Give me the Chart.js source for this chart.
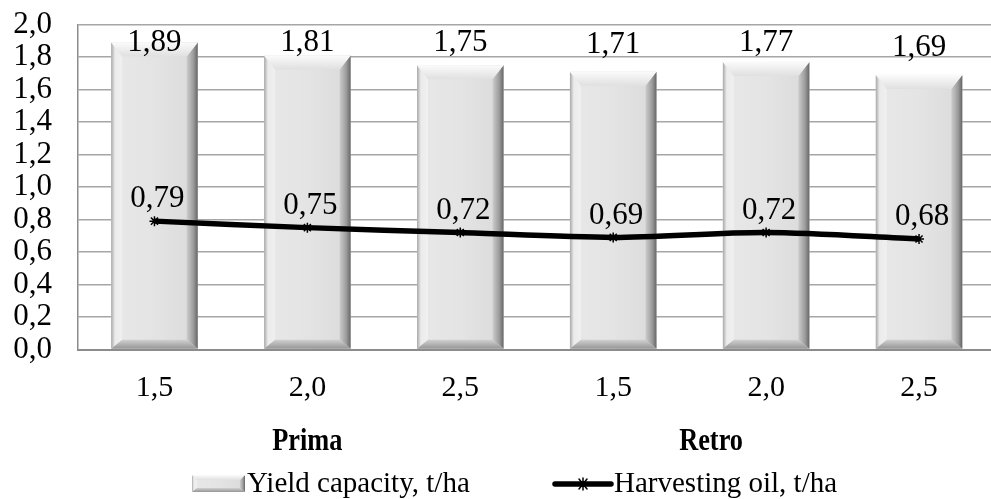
<!DOCTYPE html>
<html>
<head>
<meta charset="utf-8">
<script src="https://cdn.jsdelivr.net/npm/chart.js@4.4.1/dist/chart.umd.min.js"></script>
<style>
    html, body { margin: 0; padding: 0; overflow: hidden; background: #fff; }
    #wrap { width: 1002px; height: 499px; position: relative; }
</style>
</head>
<body>
<div id="wrap"><canvas id="myChart"></canvas></div>
<script>
// chart values
var categories = ['1,5', '2,0', '2,5', '1,5', '2,0', '2,5'];
var groupLabels = ['Prima', 'Retro'];
var yieldCapacity = [1.89, 1.81, 1.75, 1.71, 1.77, 1.69];
var harvestingOil = [0.79, 0.75, 0.72, 0.69, 0.72, 0.68];
var yMin = 0, yMax = 2, yStep = 0.2;

var FONT = '"Liberation Serif", "Times New Roman", serif';

function comma(v, d) {
    return v.toFixed(d).replace('.', ',');
}

// draw a bevelled bar (like the Excel "cool slant" style)
function drawBevel(ctx, L, T, R, B, bt, bs, bb) {
    var grad;
    // face
    grad = ctx.createLinearGradient(L, 0, R, 0);
    grad.addColorStop(0, '#e8e8e8');
    grad.addColorStop(0.5, '#e4e4e4');
    grad.addColorStop(1, '#dadada');
    ctx.fillStyle = grad;
    ctx.fillRect(L, T, R - L, B - T);
    // left side
    grad = ctx.createLinearGradient(L, 0, L + bs, 0);
    grad.addColorStop(0, '#a8a8a8');
    grad.addColorStop(0.35, '#ebebeb');
    grad.addColorStop(1, '#f0f0f0');
    ctx.fillStyle = grad;
    ctx.beginPath();
    ctx.moveTo(L, T); ctx.lineTo(L + bs, T + bt); ctx.lineTo(L + bs, B - bb); ctx.lineTo(L, B);
    ctx.closePath(); ctx.fill();
    // right side
    grad = ctx.createLinearGradient(R - bs, 0, R, 0);
    grad.addColorStop(0, '#cccccc');
    grad.addColorStop(0.6, '#9c9c9c');
    grad.addColorStop(1, '#666666');
    ctx.fillStyle = grad;
    ctx.beginPath();
    ctx.moveTo(R, T); ctx.lineTo(R - bs, T + bt); ctx.lineTo(R - bs, B - bb); ctx.lineTo(R, B);
    ctx.closePath(); ctx.fill();
    // top
    grad = ctx.createLinearGradient(0, T, 0, T + bt);
    grad.addColorStop(0, '#fbfbfb');
    grad.addColorStop(1, '#e0e0e0');
    ctx.fillStyle = grad;
    ctx.beginPath();
    ctx.moveTo(L, T); ctx.lineTo(R, T); ctx.lineTo(R - bs, T + bt); ctx.lineTo(L + bs, T + bt);
    ctx.closePath(); ctx.fill();
    // bottom
    grad = ctx.createLinearGradient(0, B - bb, 0, B);
    grad.addColorStop(0, '#d0d0d0');
    grad.addColorStop(1, '#959595');
    ctx.fillStyle = grad;
    ctx.beginPath();
    ctx.moveTo(L, B); ctx.lineTo(R, B); ctx.lineTo(R - bs, B - bb); ctx.lineTo(L + bs, B - bb);
    ctx.closePath(); ctx.fill();
}

var bevelBars = {
    id: 'bevelBars',
    afterDatasetDraw: function (chart, args) {
        if (args.meta.type !== 'bar') return;
        var ctx = chart.ctx;
        ctx.save();
        args.meta.data.forEach(function (bar) {
            var p = bar.getProps(['x', 'y', 'base', 'width'], true);
            drawBevel(ctx, p.x - p.width / 2, p.y, p.x + p.width / 2, p.base, 14, 11, 9);
        });
        ctx.restore();
    }
};

var extras = {
    id: 'extras',
    afterDatasetsDraw: function (chart) {
        var ctx = chart.ctx;
        var area = chart.chartArea;
        ctx.save();
        ctx.fillStyle = '#000';
        ctx.font = '31px ' + FONT;
        ctx.textAlign = 'center';
        ctx.textBaseline = 'middle';

        // bar labels
        chart.getDatasetMeta(0).data.forEach(function (bar, i) {
            var y = Math.max(bar.y - 27, area.top + 18);
            ctx.fillText(comma(yieldCapacity[i], 2), bar.x, y);
        });
        // line labels
        chart.getDatasetMeta(1).data.forEach(function (pt, i) {
            ctx.fillText(comma(harvestingOil[i], 2), pt.x + 3, pt.y - 22);
        });
        ctx.restore();
    },
    afterDraw: function (chart) {
        var ctx = chart.ctx;
        var xs = chart.scales.x;
        ctx.save();
        ctx.textBaseline = 'middle';
        ctx.textAlign = 'center';

        // group labels under the categories
        var groupPos = [1, 3.64];
        groupLabels.forEach(function (g, i) {
            var gx = xs.getPixelForValue(groupPos[i]);
            ctx.save();
            ctx.translate(gx, 442);
            ctx.scale(0.85, 1);
            ctx.fillStyle = '#000';
            ctx.font = 'bold 31px ' + FONT;
            ctx.fillText(g, 0, 0);
            ctx.restore();
        });

        // legend
        ctx.font = '29px ' + FONT;
        ctx.textAlign = 'left';
        drawBevel(ctx, 192, 475, 245, 492, 5, 5, 4);
        ctx.fillStyle = '#000';
        ctx.fillText(chart.data.datasets[0].label, 247, 484);

        ctx.strokeStyle = '#000';
        ctx.lineWidth = 5.5;
        ctx.lineCap = 'round';
        ctx.beginPath();
        ctx.moveTo(555, 484);
        ctx.lineTo(611, 484);
        ctx.stroke();
        ctx.lineWidth = 1.5;
        ctx.beginPath();
        ctx.moveTo(579, 479); ctx.lineTo(587, 489);
        ctx.moveTo(587, 479); ctx.lineTo(579, 489);
        ctx.moveTo(583, 478); ctx.lineTo(583, 490);
        ctx.stroke();
        ctx.fillText(chart.data.datasets[1].label, 614, 484);
        ctx.restore();
    }
};

document.addEventListener('DOMContentLoaded', function () {
    var ctx = document.getElementById('myChart').getContext('2d');

    var myChart = new Chart(ctx, {
        type: 'bar',
        data: {
            labels: categories,
            datasets: [{
                type: 'bar',
                label: 'Yield capacity, t/ha',
                data: yieldCapacity,
                backgroundColor: 'rgba(0,0,0,0)',
                borderWidth: 0,
                barPercentage: 0.566,
                categoryPercentage: 1,
                order: 2
            }, {
                type: 'line',
                label: 'Harvesting oil, t/ha',
                data: harvestingOil,
                borderColor: '#000',
                backgroundColor: '#000',
                borderWidth: 5.5,
                tension: 0.3,
                pointStyle: 'star',
                pointRadius: 5,
                pointBorderWidth: 1.5,
                pointBorderColor: '#000',
                order: 1
            }]
        },
        options: {
            responsive: true,
            maintainAspectRatio: false,
            animation: false,
            devicePixelRatio: 1,
            layout: { padding: { top: 24.5, right: 1, left: 0, bottom: 0 } },
            plugins: {
                legend: { display: false },
                tooltip: { enabled: false }
            },
            scales: {
                x: {
                    grid: { display: false, drawTicks: false },
                    border: { display: true, color: '#8c8c8c', width: 2 },
                    ticks: {
                        color: '#000',
                        padding: 21,
                        font: { family: FONT, size: 30 }
                    },
                    afterFit: function (scale) { scale.height = 149.5; }
                },
                y: {
                    min: yMin,
                    max: yMax,
                    grid: { color: '#a6a6a6', lineWidth: 1.4, drawTicks: false },
                    border: { display: true, color: '#8c8c8c', width: 1.5 },
                    ticks: {
                        stepSize: yStep,
                        autoSkip: false,
                        color: '#000',
                        padding: 26,
                        font: { family: FONT, size: 31 },
                        callback: function (v) { return comma(v, 1); }
                    },
                    afterFit: function (scale) {
                        scale.width = 78;
                        scale.paddingTop = 0;
                        scale.paddingBottom = 0;
                    }
                }
            }
        },
        plugins: [bevelBars, extras]
    });
});
</script>
</body>
</html>
